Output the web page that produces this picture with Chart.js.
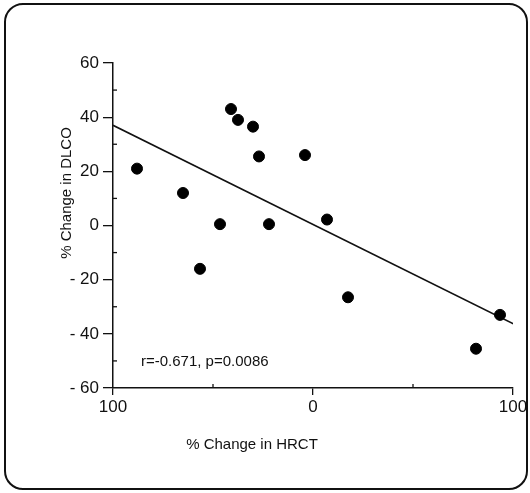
<!DOCTYPE html>
<html>
<head>
<meta charset="utf-8">
<script src="https://cdn.jsdelivr.net/npm/chart.js@4/dist/chart.umd.min.js"></script>
<style>
  html, body { margin: 0; padding: 0; background: #fff; }
  #wrap { width: 530px; height: 493px; }
</style>
</head>
<body>
<div id="wrap"><canvas id="chart" width="530" height="493"></canvas></div>
<script>
// % change in HRCT (x) vs % change in DLCO (y)
const hrctChange = [-88, -65, -46.5, -56.5, -41, -37.5, -30, -27, -22, -4, 7, 17.5, 81.5, 93.5];
const dlcoChange = [21, 12, 0.5, -16, 43, 39, 36.5, 25.5, 0.5, 26, 2.2, -26.5, -45.5, -33];

// regression line end points
const fitX = [-100, 102];
const fitY = [37, -37];

const xTicks = [-100, 0, 100];
const yTicks = [-60, -40, -20, 0, 20, 40, 60];
const statsLabel = 'r=-0.671, p=0.0086';
const xTitle = '% Change in HRCT';
const yTitle = '% Change in DLCO';

const FONT = '"Liberation Sans", Arial, sans-serif';
const TICKFONT = '"Liberation Sans Narrow", "Arial Narrow", "Liberation Sans", sans-serif';

const points = hrctChange.map((x, i) => ({ x: x, y: dlcoChange[i] }));
const fitLine = fitX.map((x, i) => ({ x: x, y: fitY[i] }));

// frame, minor ticks, titles and the r/p note
const extras = {
    id: 'extras',
    beforeDraw(chart) {
        const c = chart.ctx;
        c.save();
        c.fillStyle = '#fff';
        c.fillRect(0, 0, chart.width, chart.height);
        c.strokeStyle = '#111';
        c.lineWidth = 2;
        c.beginPath();
        c.roundRect(5, 4, 522, 485, 18);
        c.stroke();
        c.restore();
    },
    afterDraw(chart) {
        const c = chart.ctx;
        const xs = chart.scales.x, ys = chart.scales.y;
        const area = chart.chartArea;
        c.save();
        c.strokeStyle = '#111';
        c.lineWidth = 1.3;
        // minor ticks pointing inward
        [-50, 50].forEach(v => {
            const px = xs.getPixelForValue(v);
            c.beginPath();
            c.moveTo(px, area.bottom);
            c.lineTo(px, area.bottom - 4);
            c.stroke();
        });
        [-50, -30, -10, 10, 30, 50].forEach(v => {
            const py = ys.getPixelForValue(v);
            c.beginPath();
            c.moveTo(area.left, py);
            c.lineTo(area.left + 4, py);
            c.stroke();
        });

        c.fillStyle = '#111';
        c.font = '15px ' + FONT;
        c.textBaseline = 'middle';
        c.textAlign = 'left';
        c.fillText(statsLabel, xs.getPixelForValue(-86), ys.getPixelForValue(-50.5));

        c.textAlign = 'center';
        c.fillText(xTitle, xs.getPixelForValue(-30.5), 445);

        c.translate(67, ys.getPixelForValue(12));
        c.rotate(-Math.PI / 2);
        c.fillText(yTitle, 0, 0);
        c.restore();
    }
};

new Chart(document.getElementById('chart').getContext('2d'), {
    type: 'scatter',
    data: {
        datasets: [{
            label: 'patients',
            data: points,
            backgroundColor: '#000',
            borderColor: '#000',
            pointRadius: 5.5,
            pointHoverRadius: 5.5
        }, {
            type: 'line',
            label: 'fit',
            data: fitLine,
            borderColor: '#111',
            borderWidth: 1.6,
            pointRadius: 0,
            fill: false
        }]
    },
    options: {
        responsive: false,
        animation: false,
        events: [],
        layout: { padding: { left: 0, right: 17, top: 63, bottom: 0 } },
        plugins: { legend: { display: false }, tooltip: { enabled: false } },
        scales: {
            x: {
                type: 'linear',
                min: -100,
                max: 100,
                afterFit: s => { s.height = 105; },
                afterBuildTicks: s => { s.ticks = xTicks.map(v => ({ value: v })); },
                border: { color: '#111', width: 1.5 },
                grid: { drawOnChartArea: false, tickLength: 7, color: '#111', lineWidth: 1.3 },
                ticks: {
                    padding: 2,
                    color: '#111',
                    font: { family: TICKFONT, size: 17 },
                    callback: v => String(Math.abs(v))
                }
            },
            y: {
                type: 'linear',
                min: -60,
                max: 60,
                afterFit: s => { s.width = 113; },
                afterBuildTicks: s => { s.ticks = yTicks.map(v => ({ value: v })); },
                border: { color: '#111', width: 1.5 },
                grid: { drawOnChartArea: false, tickLength: 10, color: '#111', lineWidth: 1.3 },
                ticks: {
                    padding: 4,
                    color: '#111',
                    font: { family: TICKFONT, size: 17 },
                    callback: v => v < 0 ? '- ' + Math.abs(v) : String(v)
                }
            }
        }
    },
    plugins: [extras]
});
</script>
</body>
</html>
